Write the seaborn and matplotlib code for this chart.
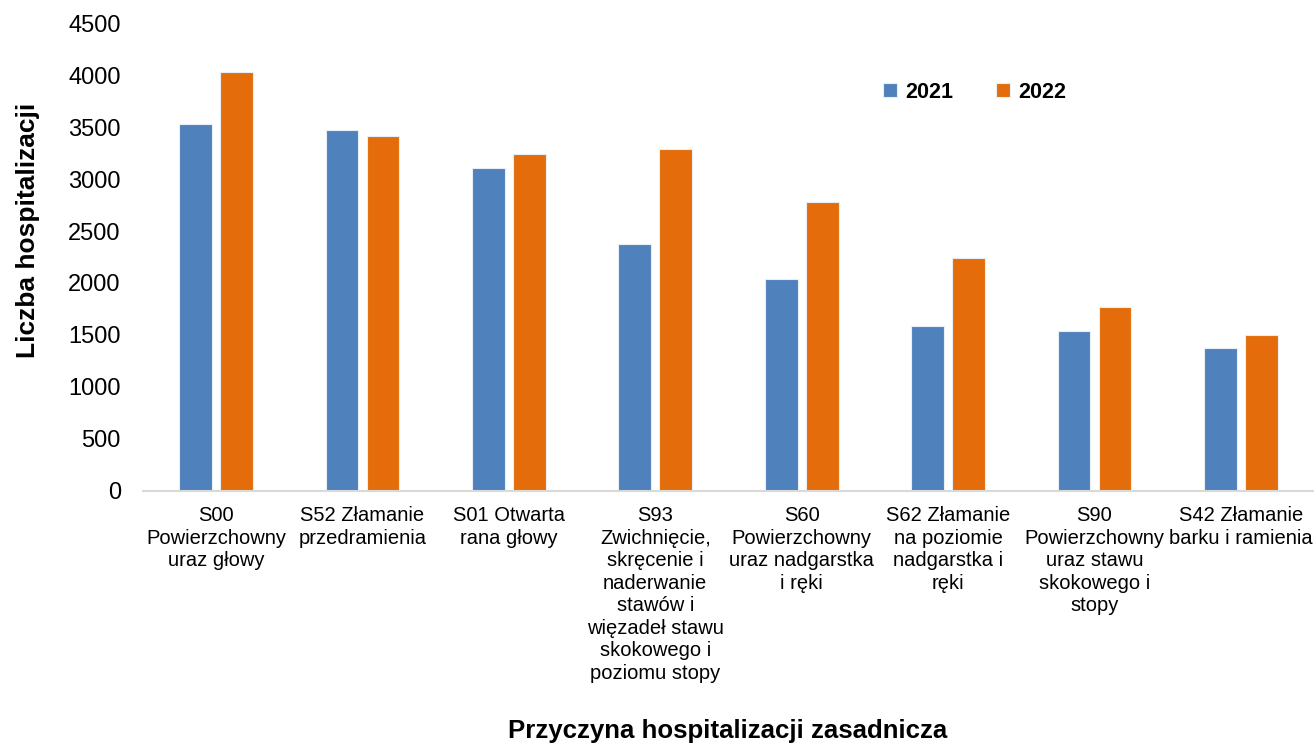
import matplotlib
matplotlib.use("Agg")
import matplotlib.pyplot as plt
import seaborn as sns
import pandas as pd

categories = [
    "S00\nPowierzchowny\nuraz głowy",
    "S52 Złamanie\nprzedramienia",
    "S01 Otwarta\nrana głowy",
    "S93\nZwichnięcie,\nskręcenie i\nnaderwanie\nstawów i\nwięzadeł stawu\nskokowego i\npoziomu stopy",
    "S60\nPowierzchowny\nuraz nadgarstka\ni ręki",
    "S62 Złamanie\nna poziomie\nnadgarstka i\nręki",
    "S90\nPowierzchowny\nuraz stawu\nskokowego i\nstopy",
    "S42 Złamanie\nbarku i ramienia",
]
values_2021 = [3528, 3476, 3104, 2375, 2038, 1583, 1540, 1371]
values_2022 = [4031, 3415, 3239, 3287, 2779, 2243, 1771, 1496]
years = ["2021", "2022"]
yticks = [0, 500, 1000, 1500, 2000, 2500, 3000, 3500, 4000, 4500]

df = pd.DataFrame({
    "cat": categories * 2,
    "year": [years[0]] * len(categories) + [years[1]] * len(categories),
    "value": values_2021 + values_2022,
})

sns.set_theme(style="white")
plt.rcParams["font.family"] = ["Liberation Sans", "DejaVu Sans"]
plt.rcParams["text.color"] = "black"
plt.rcParams["xtick.color"] = "black"
plt.rcParams["ytick.color"] = "black"

fig = plt.figure(figsize=(13.14, 7.47), dpi=100)
ax = fig.add_axes([143 / 1314, 1 - 490.7 / 747, 1171 / 1314, (490.7 - 23.3) / 747])

palette = {"2021": "#4F81BD", "2022": "#E46C0A"}
sns.barplot(data=df, x="cat", y="value", hue="year", order=categories,
            hue_order=years, palette=palette, width=0.56, gap=0.2,
            saturation=1, edgecolor="#E8EEF6", linewidth=0.8, ax=ax)

ax.set_ylim(0, 4500)
ax.set_xlim(-0.5, len(categories) - 0.5)
ax.set_yticks(yticks)
ax.set_yticklabels([str(v) for v in yticks], fontsize=17, color="black")
ax.tick_params(axis="y", length=0, pad=16)
ax.tick_params(axis="x", length=0, pad=11)
ax.set_xticks(range(len(categories)))
ax.set_xticklabels(categories, fontsize=14.5, color="black", linespacing=1.235, va="top")
ax.set_xlabel("")
ax.set_ylabel("")
for s in ["left", "right", "top"]:
    ax.spines[s].set_visible(False)
ax.spines["bottom"].set_color("#D9D9D9")
ax.spines["bottom"].set_linewidth(1.5)
ax.grid(False)

fig.text(28 / 1314, 1 - 230 / 747, "Liczba hospitalizacji", rotation=90,
         fontsize=19, fontweight="bold", ha="center", va="center", color="black")
fig.text(728 / 1314, 1 - 731 / 747, "Przyczyna hospitalizacji zasadnicza",
         fontsize=18.6, fontweight="bold", ha="center", va="center", color="black")

handles, labels = ax.get_legend_handles_labels()
ax.legend(handles, labels, loc="center left", bbox_to_anchor=(883 / 1314, 1 - 92 / 747),
          bbox_transform=fig.transFigure, ncol=2, frameon=False,
          prop={"weight": "bold", "size": 15.5}, handlelength=0.65, handleheight=0.65,
          handletextpad=0.4, columnspacing=1.95, borderpad=0, borderaxespad=0)

fig.savefig("out.png", dpi=100)
